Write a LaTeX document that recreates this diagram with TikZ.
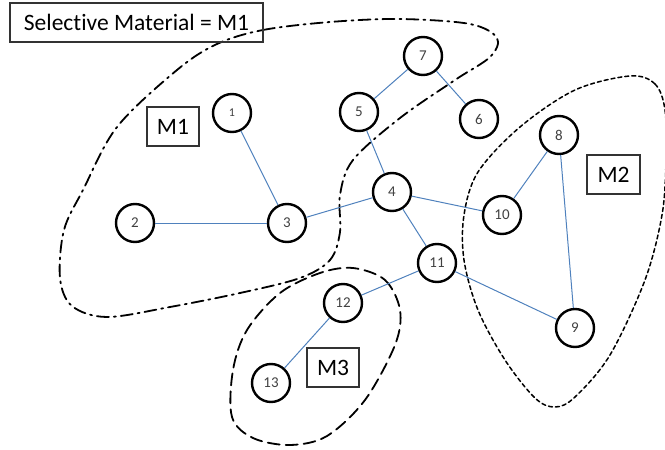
\documentclass[tikz,border=0pt]{standalone}
\usepackage{fontspec}
\setmainfont{Carlito}[Ligatures=NoCommon]
\definecolor{edgeblue}{RGB}{79,129,189}
\definecolor{numgray}{RGB}{64,64,64}
\tikzset{
  vertex/.style={circle,draw,line width=2.4pt,minimum size=38pt,inner sep=0pt,text=numgray,font=\fontsize{15}{17}\selectfont},
  link/.style={edgeblue,line width=1pt},
  tag/.style={draw=black!80,line width=1.1pt,inner sep=0pt,minimum height=39pt,font=\fontsize{23.5}{28}\selectfont},
  region/.style={line width=1.8pt,line cap=round}
}

\begin{document}
\begin{tikzpicture}[x=1pt,y=-1pt]
\useasboundingbox (0,0) rectangle (665,450);
% the three material regions
\draw [region,dash pattern=on 12pt off 5pt on 2pt off 5pt] plot [smooth cycle,tension=0.55] coordinates {(217,44) (263,30) (330,22) (400,19) (470,24) (497,38) (490,57) (455,80) (400,118) (353,160) (340,195) (340,232) (330,260) (300,278) (240,293) (170,307) (107,317) (72,306) (60,278) (64,230) (83,190) (117,127) (177,70)};
\draw [region,line width=1.5pt,dash pattern=on 4pt off 3pt] plot [smooth cycle,tension=0.55] coordinates {(630,76) (655,84) (665,110) (666,160) (662,215) (645,280) (610,355) (575,397) (555,407) (535,398) (505,360) (478,310) (464,260) (464,215) (478,172) (520,127) (575,90)};
\draw [region,dash pattern=on 12pt off 6pt] plot [smooth cycle,tension=0.55] coordinates {(353,268) (385,280) (400,310) (395,345) (365,400) (327,436) (290,445) (253,438) (232,417) (233,370) (247,330) (280,293) (320,273)};
% labels
\node [tag,minimum width=253pt] (title) at (136.5,22.5) {Selective Material = M1};
\node [tag,minimum width=52pt] (m1) at (173,126.5) {M1};
\node [tag,minimum width=53pt] (m2) at (613.5,174.5) {M2};
\node [tag,minimum width=52pt] (m3) at (333,367.5) {M3};
% nodes
\node [vertex,font=\fontsize{12}{13}\selectfont] (n1) at (232,113) {1};
\node [vertex] (n2) at (135,223) {2};
\node [vertex] (n3) at (287,223) {3};
\node [vertex] (n4) at (392,192) {4};
\node [vertex] (n5) at (359,112) {5};
\node [vertex] (n6) at (479,119) {6};
\node [vertex] (n7) at (423,56) {7};
\node [vertex] (n8) at (559,135) {8};
\node [vertex] (n9) at (575,328) {9};
\node [vertex] (n10) at (502,215) {10};
\node [vertex] (n11) at (437,263) {11};
\node [vertex] (n12) at (343,303) {12};
\node [vertex] (n13) at (271,383) {13};
% links
\draw [link] (n1) -- (n3);
\draw [link] (n2) -- (n3);
\draw [link] (n3) -- (n4);
\draw [link] (n4) -- (n5);
\draw [link] (n5) -- (n7);
\draw [link] (n7) -- (n6);
\draw [link] (n4) -- (n10);
\draw [link] (n4) -- (n11);
\draw [link] (n10) -- (n8);
\draw [link] (n8) -- (n9);
\draw [link] (n11) -- (n9);
\draw [link] (n11) -- (n12);
\draw [link] (n12) -- (n13);
\end{tikzpicture}
\end{document}
